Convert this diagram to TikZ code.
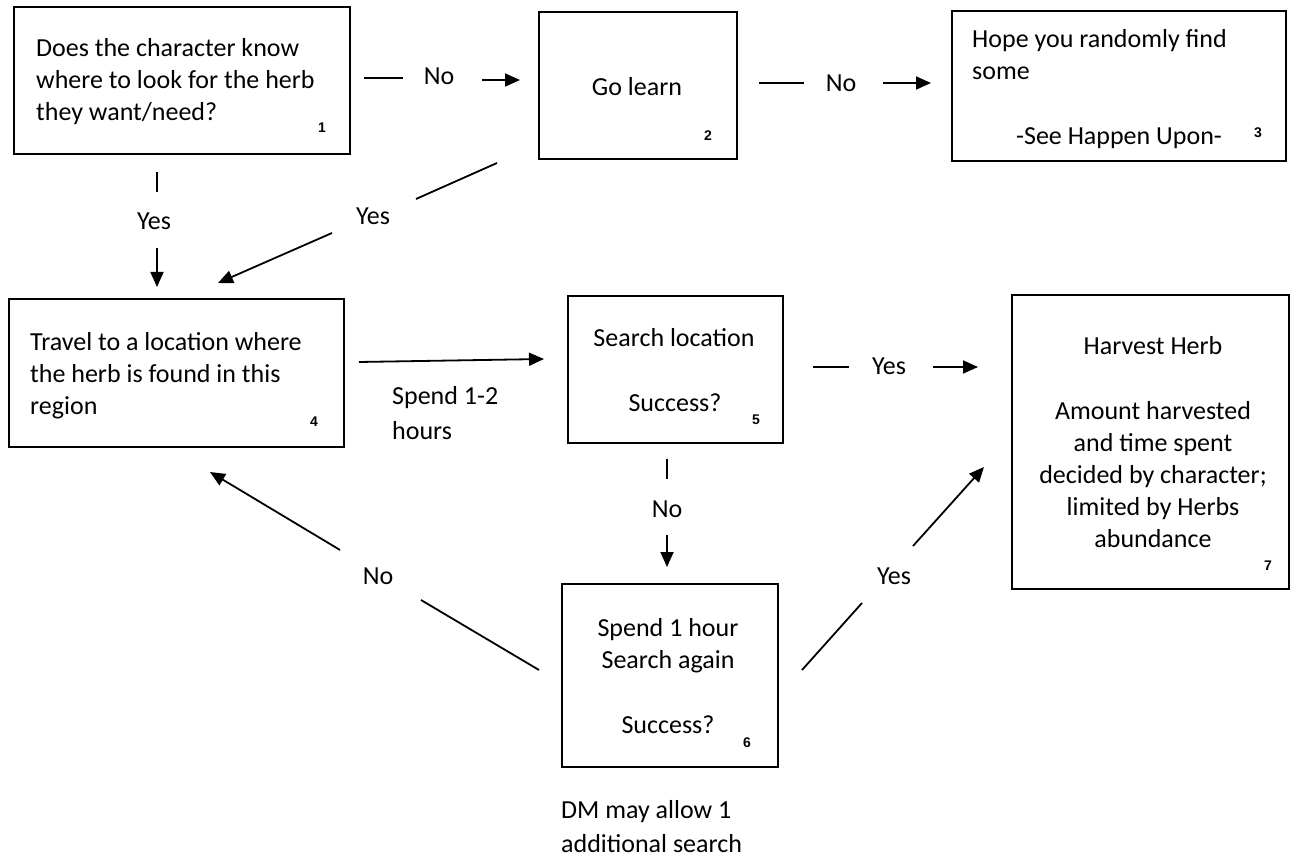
\documentclass[tikz,border=0pt]{standalone}
\usepackage{fontspec}
\setmainfont{Carlito}
\newfontfamily\numfont{Liberation Sans}
\usetikzlibrary{arrows.meta}
\begin{document}
\begin{tikzpicture}[x=1pt,y=-1pt,
  box/.style={draw, line width=1.5pt, inner sep=0pt},
  txt/.style={inner sep=0pt, font=\fontsize{26}{32}\selectfont},
  lbl/.style={inner sep=0pt, anchor=base, font=\fontsize{26}{32}\selectfont},
  num/.style={inner sep=0pt, anchor=base, font=\numfont\bfseries\fontsize{14}{14}\selectfont},
  conn/.style={line width=1.8pt},
  arr/.style={line width=1.8pt, -{Triangle[length=15pt,width=13pt]}},
]
\useasboundingbox (0,0) rectangle (1291,858);

% boxes
\node[box, minimum width=336pt, minimum height=147pt] (b1) at (182,80.5) {};
\node[box, minimum width=198pt, minimum height=147pt] (b2) at (638,85.5) {};
\node[box, minimum width=334pt, minimum height=150pt] (b3) at (1119,86) {};
\node[box, minimum width=335pt, minimum height=148pt] (b4) at (176.5,373) {};
\node[box, minimum width=215pt, minimum height=147pt] (b5) at (675.5,369.5) {};
\node[box, minimum width=216pt, minimum height=183pt] (b6) at (670,675.5) {};
\node[box, minimum width=277pt, minimum height=294pt] (b7) at (1150.5,442) {};

% box texts (multi-line nodes: base = baseline of last line)
\node[txt, align=left, anchor=base west] (t1) at (36,121) {Does the character know\\where to look for the herb\\they want/need?};
\node[lbl] (t2) at (637,96) {Go learn};
\node[txt, align=left, anchor=base west] (t3a) at (972,80) {Hope you randomly find\\some};
\node[lbl] (t3b) at (1119,145) {-See Happen Upon-};
\node[txt, align=left, anchor=base west] (t4) at (30,415) {Travel to a location where\\the herb is found in this\\region};
\node[lbl] (t5a) at (674,347) {Search location};
\node[lbl] (t5b) at (675,412) {Success?};
\node[txt, align=center, anchor=base] (t6a) at (668,668) {Spend 1 hour\\Search again};
\node[lbl] (t6b) at (668,733) {Success?};
\node[lbl] (t7a) at (1153,355) {Harvest Herb};
\node[txt, align=center, anchor=base] (t7b) at (1153,547) {Amount harvested\\and time spent\\decided by character;\\limited by Herbs\\abundance};

% numbers
\node[num] (n1) at (322,133) {1};
\node[num] (n2) at (708,141) {2};
\node[num] (n3) at (1258,138) {3};
\node[num] (n4) at (314,427) {4};
\node[num] (n5) at (756,425) {5};
\node[num] (n6) at (747,747) {6};
\node[num] (n7) at (1268,570) {7};

% free texts
\node[txt, align=left, anchor=base west, font=\fontsize{26}{35}\selectfont] (s12) at (392,439) {Spend 1-2\\hours};
\node[txt, align=left, anchor=base west, font=\fontsize{26}{34}\selectfont] (dm) at (561,852) {DM may allow 1\\additional search};

% connector labels
\node[lbl] (l12) at (439,85) {No};
\node[lbl] (l23) at (841,92) {No};
\node[lbl] (l14) at (154,230) {Yes};
\node[lbl] (l24) at (373,225) {Yes};
\node[lbl] (l57) at (889,375) {Yes};
\node[lbl] (l56) at (667,518) {No};
\node[lbl] (l64) at (378,584) {No};
\node[lbl] (l67) at (894,584) {Yes};

% connector end points
\coordinate (a12s) at (364,78);  \coordinate (a12m) at (403,78);
\coordinate (a12n) at (482,80);  \coordinate (a12e) at (520,80);
\coordinate (a23s) at (759,83);  \coordinate (a23m) at (804,83);
\coordinate (a23n) at (883,83);  \coordinate (a23e) at (931,83);
\coordinate (a14s) at (157,172); \coordinate (a14m) at (157,192);
\coordinate (a14n) at (157,248); \coordinate (a14e) at (157,287);
\coordinate (a24s) at (497,163); \coordinate (a24m) at (416,199);
\coordinate (a24n) at (332,233); \coordinate (a24e) at (218,283);
\coordinate (a45s) at (359,362); \coordinate (a45e) at (544,359);
\coordinate (a57s) at (813,367); \coordinate (a57m) at (849,367);
\coordinate (a57n) at (933,367); \coordinate (a57e) at (978,367);
\coordinate (a56s) at (667,459); \coordinate (a56m) at (667,479);
\coordinate (a56n) at (667,535); \coordinate (a56e) at (667,567);
\coordinate (a64s) at (539,670); \coordinate (a64m) at (421,600);
\coordinate (a64n) at (340,550); \coordinate (a64e) at (210,472);
\coordinate (a67s) at (802,670); \coordinate (a67m) at (862,603);
\coordinate (a67n) at (913,546); \coordinate (a67e) at (984,467);

% connectors
\draw[conn] (a12s) -- (a12m);  \draw[arr] (a12n) -- (a12e);
\draw[conn] (a23s) -- (a23m);  \draw[arr] (a23n) -- (a23e);
\draw[conn] (a14s) -- (a14m);  \draw[arr] (a14n) -- (a14e);
\draw[conn] (a24s) -- (a24m);  \draw[arr] (a24n) -- (a24e);
\draw[arr] (a45s) -- (a45e);
\draw[conn] (a57s) -- (a57m);  \draw[arr] (a57n) -- (a57e);
\draw[conn] (a56s) -- (a56m);  \draw[arr] (a56n) -- (a56e);
\draw[conn] (a64s) -- (a64m);  \draw[arr] (a64n) -- (a64e);
\draw[conn] (a67s) -- (a67m);  \draw[arr] (a67n) -- (a67e);
\end{tikzpicture}
\end{document}
